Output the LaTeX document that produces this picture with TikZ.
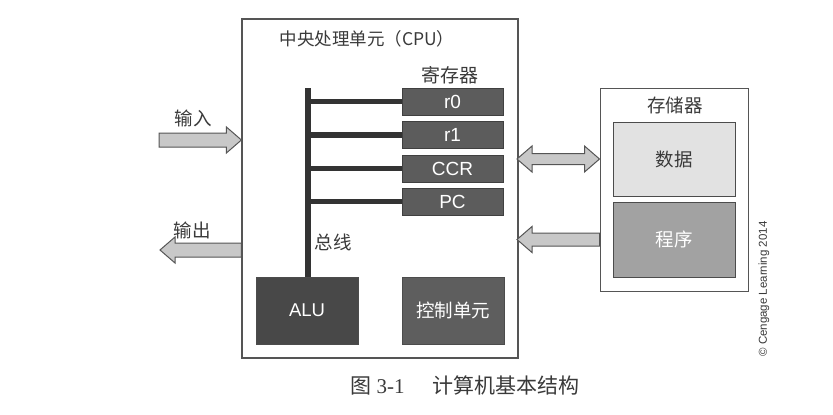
\documentclass[tikz,border=0pt]{standalone}
\usepackage{fontspec}
\setmainfont{Liberation Serif}
\setsansfont{Liberation Sans}
\newfontfamily\cjk{Noto Sans CJK SC}
\usetikzlibrary{calc}
\definecolor{edge}{HTML}{555555}
\definecolor{regfill}{HTML}{5C5C5C}
\definecolor{alufill}{HTML}{484848}
\definecolor{cufill}{HTML}{5E5E5E}
\definecolor{datafill}{HTML}{E2E2E2}
\definecolor{progfill}{HTML}{A2A2A2}
\definecolor{arrfill}{HTML}{C8C8C8}
\definecolor{txt}{HTML}{3A3A3A}
\tikzset{
  box/.style={draw=edge, line width=1.2pt, fill=white},
  reg/.style={draw=black!75, line width=1pt, fill=regfill, text=white, font=\sffamily\fontsize{19}{19}\selectfont,
    minimum width=101pt, minimum height=27pt, inner sep=0pt},
  unit/.style={draw=black!70, line width=1pt, text=white, minimum width=102pt, minimum height=67pt, inner sep=0pt},
  membox/.style={draw=black!70, line width=1pt, minimum width=122pt, inner sep=0pt, font=\cjk\fontsize{18.5}{19}\selectfont},
  lbl/.style={text=txt, font=\cjk\fontsize{18.5}{19}\selectfont, inner sep=0pt},
  bus/.style={draw=black!80, line width=5.5pt},
  blockarr/.style={draw=edge, line width=1pt, fill=arrfill, line join=miter},
}
\newcommand{\blockR}[4]{% from #1 to tip #2, body half #3, head half #4
  \draw[blockarr] ($(#1)+(0,-#3)$) -- ($(#2)+(-15,-#3)$) -- ($(#2)+(-15,-#4)$) -- (#2)
    -- ($(#2)+(-15,#4)$) -- ($(#2)+(-15,#3)$) -- ($(#1)+(0,#3)$) -- cycle;}
\newcommand{\blockL}[4]{% from #1 (right) to tip #2 (left)
  \draw[blockarr] ($(#1)+(0,-#3)$) -- ($(#2)+(15,-#3)$) -- ($(#2)+(15,-#4)$) -- (#2)
    -- ($(#2)+(15,#4)$) -- ($(#2)+(15,#3)$) -- ($(#1)+(0,#3)$) -- cycle;}
\newcommand{\blockLR}[4]{% tips #1 (left) and #2 (right)
  \draw[blockarr] (#1) -- ($(#1)+(15,-#4)$) -- ($(#1)+(15,-#3)$) -- ($(#2)+(-15,-#3)$) -- ($(#2)+(-15,-#4)$) -- (#2)
    -- ($(#2)+(-15,#4)$) -- ($(#2)+(-15,#3)$) -- ($(#1)+(15,#3)$) -- ($(#1)+(15,#4)$) -- cycle;}
\begin{document}
\begin{tikzpicture}[x=1pt,y=-1pt]
\useasboundingbox[fill=white] (0,0) rectangle (833,415);
% CPU
\node[box, minimum width=276pt, minimum height=339pt, inner sep=0pt] (cpu) at (380,188.5) {};
\node[lbl, font=\cjk\fontsize{17.5}{18}\selectfont] (cputitle) at (367,39) {中央处理单元（CPU）};
\node[lbl, font=\cjk\fontsize{19}{19}\selectfont] (reglbl) at (450,75) {寄存器};
\node[reg] (r0) at (452.5,101.5) {r0};
\node[reg] (r1) at (452.5,135) {r1};
\node[reg] (ccr) at (452.5,168.5) {CCR};
\node[reg] (pc) at (452.5,201.5) {PC};
\node[unit, fill=alufill, font=\sffamily\fontsize{18.5}{19}\selectfont] (alu) at (307,310.5) {ALU};
\node[unit, fill=cufill, font=\cjk\fontsize{18.5}{19}\selectfont] (cu) at (453,310.5) {控制单元};
% bus
\coordinate (bustop) at (308,88);
\draw[bus] (bustop) -- (bustop |- alu.north);
\foreach \r in {r0,r1,ccr,pc}{
  \draw[bus] (bustop |- \r.west) -- (\r.west);
}
\node[lbl] (buslbl) at (333,242) {总线};
% memory
\node[box, line width=1pt, minimum width=148pt, minimum height=203pt, inner sep=0pt] (mem) at (674,189.5) {};
\node[lbl] (memlbl) at (675,105) {存储器};
\node[membox, fill=datafill, minimum height=74pt, text=txt] (data) at (674,159) {数据};
\node[membox, fill=progfill, minimum height=75pt, text=white] (prog) at (674,239.5) {程序};
% arrows
\coordinate (inL) at (159,140);
\coordinate (outL) at (160,250);
\coordinate (dL) at (517,159);
\coordinate (pL) at (517,239.5);
\blockR{inL}{cpu.west |- inL}{7}{13}
\node[lbl] (inlbl) at (193,118) {输入};
\blockL{cpu.west |- outL}{outL}{7}{13}
\node[lbl] (outlbl) at (192,230) {输出};
\blockLR{dL}{mem.west |- dL}{5.5}{13}
\blockL{mem.west |- pL}{pL}{6.5}{13}
% copyright
\node[rotate=90, text=txt, font=\sffamily\fontsize{11.5}{12}\selectfont, inner sep=0pt] (copy) at (764,289) {© Cengage Learning 2014};
% caption
\node[text=txt, inner sep=0pt, font=\fontsize{21}{22}\selectfont] (cap) at (465,385) {{\cjk 图} 3-1\hspace{28pt}{\cjk 计算机基本结构}};
\end{tikzpicture}
\end{document}
